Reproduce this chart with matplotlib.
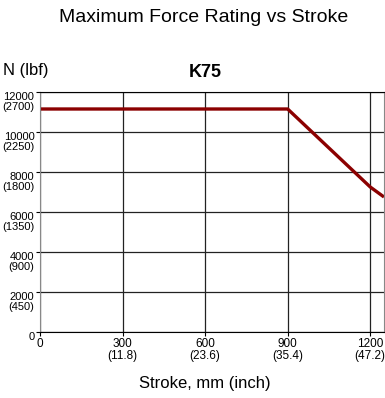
import matplotlib.pyplot as plt
from matplotlib.transforms import ScaledTranslation

stroke = [0, 900, 1200, 1250]
force = [11150, 11150, 7250, 6750]

x_ticks = [0, 300, 600, 900, 1200]
x_labels = ['0', '300\n(11.8)', '600\n(23.6)', '900\n(35.4)', '1200\n(47.2)']
y_ticks = [0, 2000, 4000, 6000, 8000, 10000, 12000]
y_labels = ['0', '2000\n(450)', '4000\n(900)', '6000\n(1350)', '8000\n(1800)',
            '10000\n(2250)', '12000\n(2700)']

plt.rcParams['font.family'] = ['Liberation Sans', 'DejaVu Sans']

fig = plt.figure(figsize=(3.85, 3.98), dpi=100)
ax = fig.add_axes([40/385, 66/398, 344/385, 240/398])

ax.plot(stroke, force, color='#8b0000', linewidth=2.4, solid_capstyle='butt')
ax.set_xlim(0, 1250)
ax.set_ylim(0, 12000)
ax.set_xticks(x_ticks)
ax.set_xticklabels(x_labels, fontsize=8.5, linespacing=1.05)
ax.set_yticks(y_ticks)
ax.set_yticklabels(y_labels, fontsize=8, linespacing=1.05, va='top')
shift = ScaledTranslation(0, 5.5/100, fig.dpi_scale_trans)
for lab in ax.get_yticklabels():
    lab.set_transform(lab.get_transform() + shift)
# keep the last stroke label inside the figure
ax.get_xticklabels()[-1].set_transform(
    ax.get_xticklabels()[-1].get_transform() + ScaledTranslation(-2/100, 0, fig.dpi_scale_trans))
ax.tick_params(length=3, width=0.8, color='black', pad=1)
ax.grid(True, color='#222222', linewidth=0.9)
ax.spines['right'].set_color('#888888')
ax.spines['left'].set_color('#888888')
ax.spines['bottom'].set_color('black')
ax.spines['top'].set_color('black')

fig.text(0.53, 0.955, 'Maximum Force Rating vs Stroke', ha='center', va='center', fontsize=14)
fig.text(0.533, 0.818, 'K75', ha='center', va='center', fontsize=13, fontweight='bold')
fig.text(0.008, 0.822, 'N (lbf)', ha='left', va='center', fontsize=12)
fig.text(0.533, 0.037, 'Stroke, mm (inch)', ha='center', va='center', fontsize=12)

plt.savefig('out.png', dpi=100)
